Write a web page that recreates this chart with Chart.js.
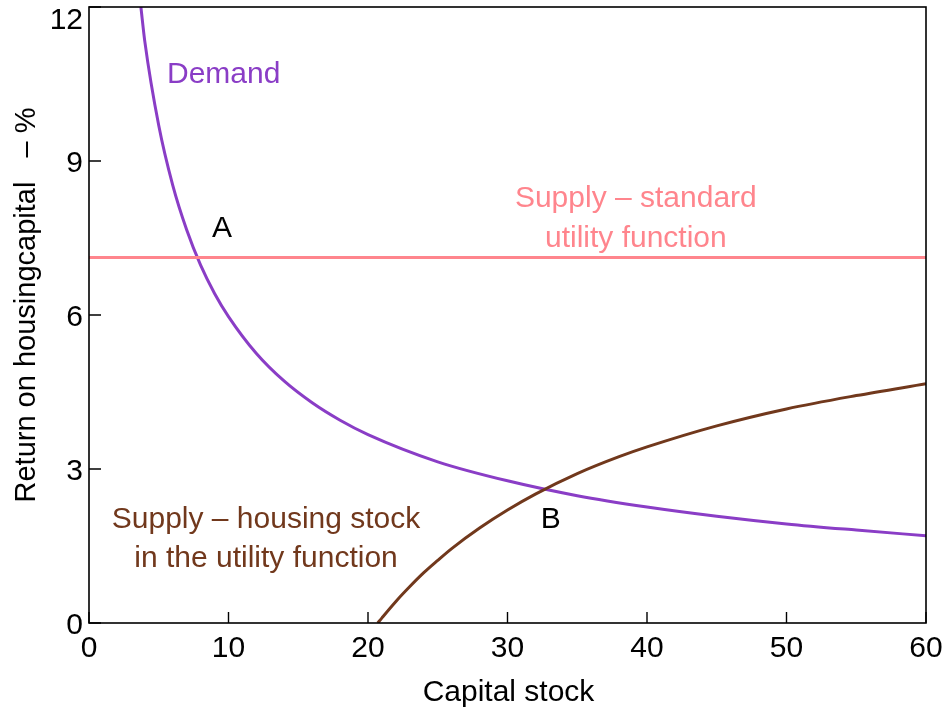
<!DOCTYPE html>
<html>
<head>
<meta charset="utf-8">
<script src="https://cdn.jsdelivr.net/npm/chart.js@4/dist/chart.umd.min.js"></script>
<style>
  html, body { margin: 0; padding: 0; background: #ffffff; }
  #wrap { width: 946px; height: 711px; }
</style>
</head>
<body>
<div id="wrap"><canvas id="chart" width="946" height="711"></canvas></div>
<script>
// Demand for housing capital: return (%) against capital stock
const demandX = [3.72, 4, 5, 6, 7, 8, 9, 10, 12, 14, 16, 18, 20, 25, 30, 35, 40, 45, 50, 55, 60];
const demandY = [12.0, 11.33, 9.69, 8.53, 7.66, 6.97, 6.42, 5.97, 5.25, 4.71, 4.29, 3.95, 3.67, 3.14, 2.77, 2.48, 2.26, 2.08, 1.93, 1.81, 1.70];

// Supply when the housing stock enters the utility function
const housingSupplyX = [20.7, 21, 22, 23, 24, 25, 26, 28, 30, 32, 35, 38, 40, 45, 50, 55, 60];
const housingSupplyY = [0.0, 0.10, 0.42, 0.71, 0.98, 1.22, 1.45, 1.85, 2.20, 2.51, 2.91, 3.24, 3.43, 3.84, 4.17, 4.43, 4.66];

// Supply under the standard utility function (flat return)
const standardSupplyX = [0, 60];
const standardSupplyY = [7.12, 7.12];

// Axis ticks
const xTickLabels = ['0', '10', '20', '30', '40', '50', '60'];
const yTickLabels = ['0', '3', '6', '9', '12'];

const FONT = '"Liberation Sans", Arial, Helvetica, sans-serif';
const PURPLE = '#8a3dc6';
const PINK = '#ff858d';
const BROWN = '#71381c';

// Text labels placed in data coordinates
const notes = [
  { text: 'Demand', x: 5.59, y: 10.52, align: 'left', color: PURPLE },
  { text: 'A', x: 9.53, y: 7.52, align: 'center', color: '#000000' },
  { text: 'B', x: 33.1, y: 1.85, align: 'center', color: '#000000' },
  { text: 'Supply \u2013 standard', x: 39.2, y: 8.10, align: 'center', color: PINK },
  { text: 'utility function', x: 39.2, y: 7.33, align: 'center', color: PINK },
  { text: 'Supply \u2013 housing stock', x: 12.69, y: 1.85, align: 'center', color: BROWN },
  { text: 'in the utility function', x: 12.69, y: 1.09, align: 'center', color: BROWN }
];

const toPoints = (xs, ys) => xs.map((x, i) => ({ x: x, y: ys[i] }));

const framePlugin = {
  id: 'frame',
  afterDatasetsDraw(chart) {
    const ctx = chart.ctx;
    const area = chart.chartArea;
    const xs = chart.scales.x;
    const ys = chart.scales.y;
    ctx.save();

    // box round the plot
    ctx.strokeStyle = '#000000';
    ctx.lineWidth = 1.6;
    ctx.strokeRect(area.left, area.top, area.right - area.left, area.bottom - area.top);

    // inward ticks
    ctx.lineWidth = 1.4;
    ctx.beginPath();
    yTickLabels.forEach(t => {
      const py = ys.getPixelForValue(Number(t));
      ctx.moveTo(area.left, py);
      ctx.lineTo(area.left + 12, py);
    });
    xTickLabels.forEach(t => {
      const px = xs.getPixelForValue(Number(t));
      ctx.moveTo(px, area.bottom);
      ctx.lineTo(px, area.bottom - 11);
    });
    ctx.stroke();

    // tick labels
    ctx.fillStyle = '#000000';
    ctx.font = '30px ' + FONT;
    ctx.textAlign = 'right';
    ctx.textBaseline = 'alphabetic';
    yTickLabels.forEach(t => {
      const py = ys.getPixelForValue(Number(t));
      const base = Math.max(py + 11, 29);
      ctx.fillText(t, area.left - 6, base);
    });
    ctx.textAlign = 'center';
    xTickLabels.forEach(t => {
      const px = xs.getPixelForValue(Number(t));
      ctx.fillText(t, px, area.bottom + 34);
    });

    // axis titles
    ctx.font = '30px ' + FONT;
    ctx.fillText('Capital stock', (area.left + area.right) / 2 + 1, area.bottom + 78);
    ctx.save();
    ctx.translate(35, 305);
    ctx.rotate(-Math.PI / 2);
    ctx.textAlign = 'center';
    ctx.font = '29px ' + FONT;
    ctx.fillText('Return on housingcapital   \u2013 %', 0, 0);
    ctx.restore();

    // curve labels
    ctx.font = '30px ' + FONT;
    notes.forEach(n => {
      ctx.fillStyle = n.color;
      ctx.textAlign = n.align;
      ctx.fillText(n.text, xs.getPixelForValue(n.x), ys.getPixelForValue(n.y));
    });
    ctx.restore();
  }
};

new Chart(document.getElementById('chart'), {
  type: 'line',
  data: {
    datasets: [
      {
        label: 'Supply \u2013 standard utility function',
        data: toPoints(standardSupplyX, standardSupplyY),
        borderColor: PINK,
        borderWidth: 3,
        pointRadius: 0,
        tension: 0
      },
      {
        label: 'Supply \u2013 housing stock in the utility function',
        data: toPoints(housingSupplyX, housingSupplyY),
        borderColor: BROWN,
        borderWidth: 3,
        pointRadius: 0,
        cubicInterpolationMode: 'monotone'
      },
      {
        label: 'Demand',
        data: toPoints(demandX, demandY),
        borderColor: PURPLE,
        borderWidth: 3,
        pointRadius: 0,
        cubicInterpolationMode: 'monotone'
      }
    ]
  },
  options: {
    responsive: false,
    animation: false,
    devicePixelRatio: 1,
    layout: { padding: { left: 89, right: 20, top: 7, bottom: 88 } },
    plugins: {
      legend: { display: false },
      tooltip: { enabled: false }
    },
    scales: {
      x: { type: 'linear', min: 0, max: 60, display: false },
      y: { type: 'linear', min: 0, max: 12, display: false }
    }
  },
  plugins: [framePlugin]
});
</script>
</body>
</html>
